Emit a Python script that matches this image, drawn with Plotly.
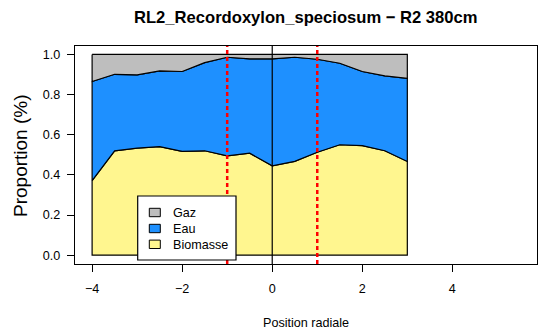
import plotly.graph_objects as go

# Data
positions = [-4, -3.5, -3, -2.5, -2, -1.5, -1, -0.5, 0, 0.5, 1, 1.5, 2, 2.5, 3]
biomasse = [0.371, 0.520, 0.533, 0.541, 0.517, 0.520, 0.495, 0.508, 0.445, 0.467, 0.513, 0.550, 0.546, 0.520, 0.467]
eau_cum = [0.865, 0.901, 0.898, 0.918, 0.915, 0.959, 0.986, 0.978, 0.978, 0.986, 0.976, 0.956, 0.915, 0.893, 0.881]
gaz_cum = [1.0] * len(positions)
ref_lines = [-1, 1]
center_line = 0
series_names = ["Gaz", "Eau", "Biomasse"]
colors = {"Gaz": "#BEBEBE", "Eau": "#1E90FF", "Biomasse": "#FFF68F"}
x_ticks = [-4, -2, 0, 2, 4]
y_ticks = [0.0, 0.2, 0.4, 0.6, 0.8, 1.0]

W, H = 540, 336
L, R, T, B = 75, 3, 46, 72
pw, ph = W - L - R, H - T - B
def px(x):
    return (x - L) / pw
def py(y):
    return (H - B - y) / ph

FS = 12.6
fig = go.Figure()

def poly(lower, upper, color, name):
    xs = positions + positions[::-1] + [positions[0]]
    ys = upper + lower[::-1] + [upper[0]]
    fig.add_trace(go.Scatter(x=xs, y=ys, fill="toself", fillcolor=color, mode="lines",
                             line=dict(color="black", width=1.2), name=name, showlegend=False,
                             hoverinfo="skip"))

zeros = [0.0] * len(positions)
poly(zeros, biomasse, colors["Biomasse"], "Biomasse")
poly(biomasse, eau_cum, colors["Eau"], "Eau")
poly(eau_cum, gaz_cum, colors["Gaz"], "Gaz")

ylo, yhi = -0.044, 1.042
fig.add_trace(go.Scatter(x=[center_line, center_line], y=[ylo, yhi], mode="lines",
                         line=dict(color="black", width=1.2), showlegend=False, hoverinfo="skip"))
for xv in ref_lines:
    fig.add_trace(go.Scatter(x=[xv, xv], y=[ylo, yhi], mode="lines",
                             line=dict(color="#FF0000", width=2.5, dash="4px,3px"),
                             showlegend=False, hoverinfo="skip"))

shapes = []
annotations = []
lx0, lx1, ly0, ly1 = 137.7, 236, 196, 260
shapes.append(dict(type="rect", xref="paper", yref="paper", x0=px(lx0), x1=px(lx1),
                   y0=py(ly1), y1=py(ly0), line=dict(color="black", width=1.2), fillcolor="white", layer="above"))
centers = [212.5, 228.5, 244.3]
for name, cy in zip(series_names, centers):
    shapes.append(dict(type="rect", xref="paper", yref="paper", x0=px(149.3), x1=px(160.3),
                       y0=py(cy + 4.2), y1=py(cy - 4.2), line=dict(color="black", width=1),
                       fillcolor=colors[name], layer="above"))
    annotations.append(dict(text=name, xref="paper", yref="paper", x=px(171), y=py(cy + 0.5),
                            xanchor="left", yanchor="middle", showarrow=False,
                            font=dict(size=FS, color="black")))

annotations.append(dict(text="<b>RL2_Recordoxylon_speciosum \u2212 R2 380cm</b>", xref="paper", yref="paper",
                        x=0.5, y=py(17), xanchor="center", yanchor="middle", showarrow=False,
                        font=dict(size=16.6, color="black")))
annotations.append(dict(text="Position radiale", xref="paper", yref="paper",
                        x=px(305.5), y=py(323), xanchor="center", yanchor="middle", showarrow=False,
                        font=dict(size=FS, color="black")))
annotations.append(dict(text="Proportion (%)", xref="paper", yref="paper",
                        x=px(20), y=py(156), xanchor="center", yanchor="middle", showarrow=False,
                        textangle=-90, font=dict(size=19, color="black")))

fig.update_layout(
    width=W, height=H, margin=dict(l=L, r=R, t=T, b=B),
    paper_bgcolor="white", plot_bgcolor="white",
    font=dict(family="Liberation Sans, Arial, sans-serif", size=FS, color="black"),
    shapes=shapes, annotations=annotations, showlegend=False,
    xaxis=dict(range=[-4.38, 5.88], tickvals=x_ticks, ticks="outside", ticklen=7, tickwidth=1,
               tickcolor="black", showline=True, linecolor="black", linewidth=1.2, mirror=True,
               showgrid=False, zeroline=False, tickfont=dict(size=FS), ticklabelstandoff=6),
    yaxis=dict(range=[ylo, yhi], tickvals=y_ticks, ticktext=[f"{v:.1f}" for v in y_ticks],
               ticks="outside", ticklen=7, tickwidth=1, tickcolor="black", showline=True,
               linecolor="black", linewidth=1.2, mirror=True, showgrid=False, zeroline=False,
               tickfont=dict(size=FS), ticklabelstandoff=4),
)

fig.write_html("out.html", config={"displayModeBar": False},
               post_script="document.body.style.margin='0';document.body.style.padding='0';")
